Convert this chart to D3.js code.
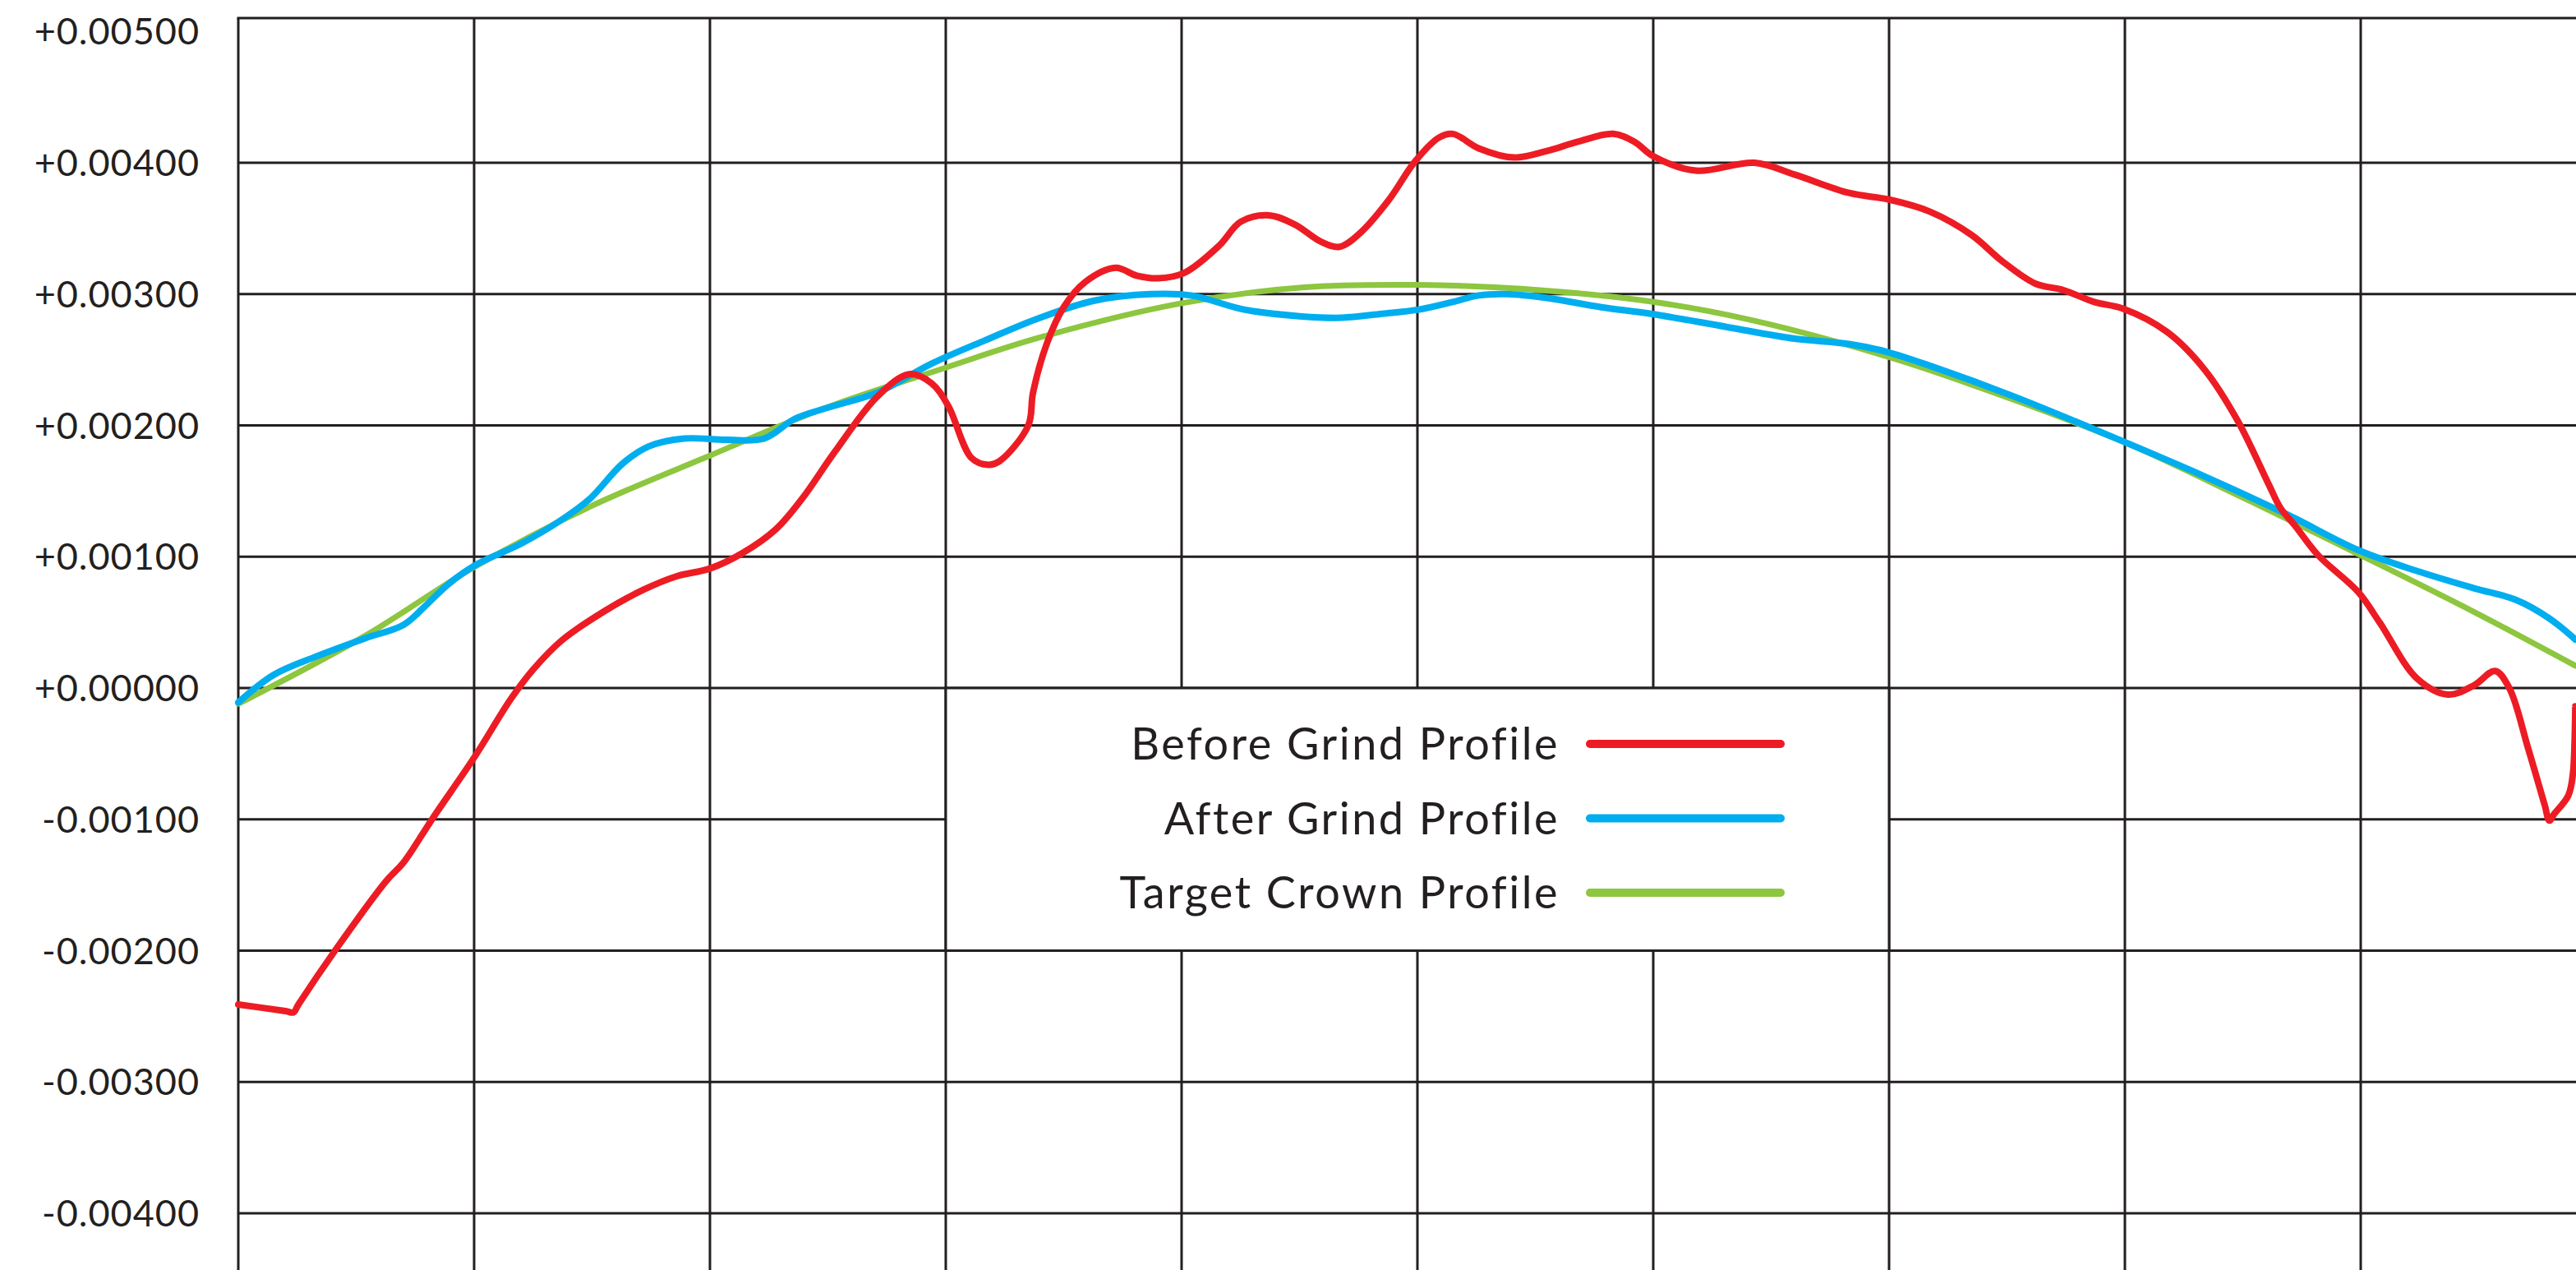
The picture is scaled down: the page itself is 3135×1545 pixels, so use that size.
<!DOCTYPE html>
<html>
<head>
<meta charset="utf-8">
<script src="https://cdn.jsdelivr.net/npm/d3@7"></script>
<style>
  html, body { margin: 0; padding: 0; background: #ffffff; }
  svg { display: block; }
</style>
</head>
<body>
<svg id="chart"></svg>
<script>
// x positions are in grid units (one unit per vertical grid line), y values in inches

let beforeX = [0, 0.20, 0.234, 0.255, 0.41, 0.627, 0.70, 0.825, 1.0, 1.157, 1.25, 1.37, 1.557, 1.72, 1.857, 2.0, 2.14, 2.28, 2.39, 2.53, 2.71, 2.845, 2.94, 3.01, 3.11, 3.18, 3.23, 3.35, 3.37, 3.43, 3.50, 3.59, 3.72, 3.81, 3.90, 4.01, 4.16, 4.25, 4.37, 4.48, 4.59, 4.67, 4.76, 4.88, 4.99, 5.09, 5.15, 5.26, 5.41, 5.55, 5.68, 5.83, 5.92, 6.00, 6.18, 6.43, 6.60, 6.83, 7.00, 7.17, 7.35, 7.48, 7.62, 7.74, 7.87, 7.99, 8.18, 8.34, 8.48, 8.61, 8.66, 8.72, 8.82, 8.99, 9.08, 9.24, 9.37, 9.48, 9.57, 9.63, 9.71, 9.78, 9.80, 9.82, 9.88, 9.90, 9.91];
let beforeY = [-0.00241, -0.00246, -0.00247, -0.00241, -0.00200, -0.00147, -0.00133, -0.00099, -0.00053, -0.00008, 0.00014, 0.00036, 0.00059, 0.00075, 0.00085, 0.00091, 0.00103, 0.00121, 0.00144, 0.00180, 0.00222, 0.00239, 0.00232, 0.00215, 0.00175, 0.00170, 0.00173, 0.00200, 0.00225, 0.00263, 0.00290, 0.00309, 0.00320, 0.00314, 0.00312, 0.00316, 0.00337, 0.00355, 0.00360, 0.00353, 0.00340, 0.00336, 0.00347, 0.00372, 0.00401, 0.00419, 0.00422, 0.00411, 0.00404, 0.00409, 0.00416, 0.00422, 0.00416, 0.00405, 0.00394, 0.00400, 0.00391, 0.00377, 0.00372, 0.00363, 0.00345, 0.00325, 0.00308, 0.00303, 0.00294, 0.00289, 0.00271, 0.00242, 0.00203, 0.00155, 0.00137, 0.00124, 0.00101, 0.00073, 0.00050, 0.00007, -0.00005, 0.00002, 0.00013, 0.00000, -0.00046, -0.00089, -0.00101, -0.00096, -0.00082, -0.00065, -0.00014];

let afterX = [0, 0.15, 0.33, 0.54, 0.70, 0.79, 0.89, 1.01, 1.20, 1.37, 1.49, 1.63, 1.74, 1.89, 2.07, 2.23, 2.36, 2.49, 2.71, 2.94, 3.17, 3.40, 3.63, 3.87, 4.04, 4.27, 4.51, 4.68, 4.85, 5.00, 5.15, 5.26, 5.38, 5.55, 5.78, 5.99, 6.31, 6.60, 6.83, 6.99, 7.18, 7.53, 7.99, 8.34, 8.69, 8.99, 9.24, 9.48, 9.66, 9.80, 9.91];
let afterY = [-0.00011, 0.00010, 0.00024, 0.00038, 0.00048, 0.00062, 0.00079, 0.00094, 0.00110, 0.00128, 0.00144, 0.00171, 0.00184, 0.00190, 0.00189, 0.00190, 0.00205, 0.00213, 0.00225, 0.00247, 0.00265, 0.00282, 0.00295, 0.00300, 0.00299, 0.00288, 0.00283, 0.00282, 0.00285, 0.00288, 0.00294, 0.00299, 0.00300, 0.00297, 0.00290, 0.00285, 0.00275, 0.00266, 0.00262, 0.00256, 0.00245, 0.00222, 0.00188, 0.00161, 0.00132, 0.00105, 0.00089, 0.00076, 0.00067, 0.00053, 0.00037];

let targetX = [0, 0.54, 1.0, 1.49, 2.0, 2.47, 3.0, 3.40, 4.0, 4.51, 5.0, 5.44, 6.0, 6.42, 7.0, 7.35, 8.0, 8.5, 8.99, 9.48, 9.91];
let targetY = [-0.00012, 0.00040, 0.00092, 0.00138, 0.00177, 0.00212, 0.00244, 0.00267, 0.00293, 0.00305, 0.00307, 0.00304, 0.00294, 0.00280, 0.00252, 0.00231, 0.00187, 0.00145, 0.00102, 0.00058, 0.00017];

let tickValues = [0.005, 0.004, 0.003, 0.002, 0.001, 0, -0.001, -0.002, -0.003, -0.004];
let tickLabels = ["+0.00500", "+0.00400", "+0.00300", "+0.00200", "+0.00100", "+0.00000", "-0.00100", "-0.00200", "-0.00300", "-0.00400"];
let gridColumns = [0, 1, 2, 3, 4, 5, 6, 7, 8, 9];

let seriesNames = ["Before Grind Profile", "After Grind Profile", "Target Crown Profile"];
let seriesColors = ["#ed1c24", "#00aeef", "#8dc63f"];

let width = 3135;
let height = 1545;
let plotLeft = 290;
let plotTop = 22;
let gridColor = "#231f20";
let fontFamily = "Lato, 'Open Sans', sans-serif";

let svg = d3.select("#chart")
    .attr("width", width)
    .attr("height", height);

let x = d3.scaleLinear()
    .domain([0, 10])
    .range([plotLeft, plotLeft + 2870]);

let y = d3.scaleLinear()
    .domain([-0.004, 0.004])
    .range([1476, 198]);

// grid
let grid = svg.append("g")
    .attr("stroke", gridColor)
    .attr("stroke-width", 3);

grid.selectAll(".hline")
    .data(tickValues.filter(function(d) { return d < 0.0045; }))
    .enter().append("line")
    .attr("x1", plotLeft)
    .attr("x2", width)
    .attr("y1", function(d) { return y(d); })
    .attr("y2", function(d) { return y(d); });

grid.append("line")
    .attr("x1", plotLeft - 1.5)
    .attr("x2", width)
    .attr("y1", plotTop)
    .attr("y2", plotTop);

grid.selectAll(".vline")
    .data(gridColumns)
    .enter().append("line")
    .attr("x1", function(d) { return x(d); })
    .attr("x2", function(d) { return x(d); })
    .attr("y1", plotTop)
    .attr("y2", height);

// y axis labels
svg.append("g").selectAll("text")
    .data(tickValues)
    .enter().append("text")
    .attr("x", 243)
    .attr("y", function(d) { return y(d); })
    .attr("dy", "0.36em")
    .attr("text-anchor", "end")
    .style("font-family", fontFamily)
    .style("font-size", "45px")
    .style("letter-spacing", "1px")
    .style("fill", gridColor)
    .text(function(d, i) { return tickLabels[i]; });

// profile lines
let line = d3.line()
    .x(function(d) { return x(d[0]); })
    .y(function(d) { return y(d[1]); })
    .curve(d3.curveCatmullRom.alpha(0.5));

let series = [
    {name: seriesNames[2], color: seriesColors[2], w: 7, pts: d3.zip(targetX, targetY)},
    {name: seriesNames[1], color: seriesColors[1], w: 8, pts: d3.zip(afterX, afterY)},
    {name: seriesNames[0], color: seriesColors[0], w: 8, pts: d3.zip(beforeX, beforeY)}
];

svg.selectAll(".profile")
    .data(series)
    .enter().append("path")
    .attr("fill", "none")
    .attr("stroke", function(d) { return d.color; })
    .attr("stroke-width", function(d) { return d.w; })
    .attr("stroke-linejoin", "round")
    .attr("stroke-linecap", "round")
    .attr("d", function(d) { return line(d.pts); });

// legend box sits on the grid cells between columns 3 and 7
svg.append("rect")
    .attr("x", x(3))
    .attr("y", y(0))
    .attr("width", x(7) - x(3))
    .attr("height", y(-0.002) - y(0))
    .attr("fill", "#ffffff")
    .attr("stroke", gridColor)
    .attr("stroke-width", 3);

let legend = svg.append("g").selectAll("g")
    .data(seriesNames)
    .enter().append("g")
    .attr("transform", function(d, i) { return "translate(0," + (905 + i * 90.5) + ")"; });

legend.append("text")
    .attr("x", 1898)
    .attr("dy", "0.36em")
    .attr("text-anchor", "end")
    .style("font-family", fontFamily)
    .style("font-size", "54px")
    .style("letter-spacing", "2.5px")
    .style("fill", gridColor)
    .text(function(d) { return d; });

legend.append("line")
    .attr("x1", 1935)
    .attr("x2", 2167)
    .attr("stroke", function(d, i) { return seriesColors[i]; })
    .attr("stroke-width", 10)
    .attr("stroke-linecap", "round");
</script>
</body>
</html>
